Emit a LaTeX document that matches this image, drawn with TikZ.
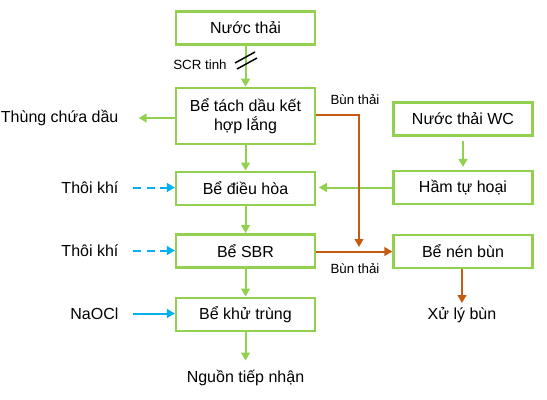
\documentclass[tikz,border=0pt]{standalone}
\usepackage{fontspec}
\setmainfont{Liberation Sans}
\usepackage{xcolor}
\usetikzlibrary{positioning, arrows.meta, calc}
\definecolor{grn}{HTML}{92D050}
\definecolor{blu}{HTML}{00B0F0}
\definecolor{brn}{HTML}{C55A11}

\begin{document}
\begin{tikzpicture}[
      x=0.75pt, y=-0.75pt,
      font=\fontsize{12}{14}\selectfont,
      block/.style={draw=grn, line width=1.9pt, minimum height=25pt, minimum width=104pt, align=center, inner sep=2pt},
      lbl/.style={inner sep=1pt},
      small/.style={font=\fontsize{9}{11}\selectfont, inner sep=1pt},
      arr/.style={-{Triangle[length=6pt, width=6.5pt]}, line width=1.5pt, draw=grn},
      air/.style={-{Triangle[length=6pt, width=6.5pt]}, line width=1.5pt, draw=blu},
      sludge/.style={-{Triangle[length=6pt, width=6.5pt]}, line width=1.5pt, draw=brn}
    ]
    \useasboundingbox (0,0) rectangle (547,400);
    %% main line
    \node[block] (nt)   at (245.5,28)  {Nước thải};
    \node[block, minimum height=42pt] (tach) at (245.5,116) {Bể tách dầu kết\\hợp lắng};
    \node[block] (dieu) at (245.5,188.5) {Bể điều hòa};
    \node[block] (sbr)  at (245.5,251) {Bể SBR};
    \node[block] (khu)  at (245.5,314.5) {Bể khử trùng};
    \node[lbl] (nguon) at (245.5,378) {Nguồn tiếp nhận};
    \draw[arr] (nt) -- (tach);
    \draw[arr] (tach) -- (dieu);
    \draw[arr] (dieu) -- (sbr);
    \draw[arr] (sbr) -- (khu);
    \draw[arr, shorten >=6pt] (khu) -- (nguon);
    %% SCR mark
    \coordinate (cut) at (246,60);
    \draw[line width=1.1pt] ($(cut)+(-11,3)$) -- ($(cut)+(9,-8)$);
    \draw[line width=1.1pt] ($(cut)+(-9,9)$) -- ($(cut)+(11,-2)$);
    \node[small, font=\fontsize{10}{12}\selectfont] (scr) at (200,65) {SCR tinh};
    %% oil
    \node[lbl, anchor=east] (thung) at (120,118) {Thùng chứa dầu};
    \draw[arr, shorten >=14pt] (tach.west |- thung) -- (thung);
    %% inputs on the left
    \node[lbl, anchor=east] (kh1) at (120,187.5) {Thôi khí};
    \node[lbl, anchor=east] (kh2) at (120,250.5) {Thôi khí};
    \node[lbl, anchor=east] (naocl) at (120,313.5) {NaOCl};
    \draw[air, dashed, dash pattern=on 6pt off 4pt, shorten <=10pt] (kh1) -- (dieu.west |- kh1);
    \draw[air, dashed, dash pattern=on 6pt off 4pt, shorten <=10pt] (kh2) -- (sbr.west |- kh2);
    \draw[air, shorten <=10pt] (naocl) -- (khu.west |- naocl);
    %% WC branch
    \node[block] (wc)  at (463,119) {Nước thải WC};
    \node[block] (ham) at (463,187.5) {Hầm tự hoại};
    \node[block] (nen) at (463,251.5) {Bể nén bùn};
    \node[lbl] (xuly) at (462,315) {Xử lý bùn};
    \draw[arr, shorten <=3pt, shorten >=2pt] (wc) -- (ham);
    \draw[arr, shorten >=2pt] (ham.west) -- (dieu.east |- ham.west);
    %% sludge
    \coordinate (turn) at (359,115);
    \coordinate (drop) at (359,247);
    \draw[sludge] (tach.east |- turn) -- (turn) -- (drop);
    \draw[sludge] (sbr.east |- nen.west) -- (nen.west);
    \draw[sludge, shorten >=2pt] (nen.south -| xuly) -- (xuly);
    \node[small, font=\fontsize{10}{12}\selectfont] (bt1) at (355,100) {Bùn thải};
    \node[small, font=\fontsize{10}{12}\selectfont] (bt2) at (355,269) {Bùn thải};
  \end{tikzpicture}
\end{document}
